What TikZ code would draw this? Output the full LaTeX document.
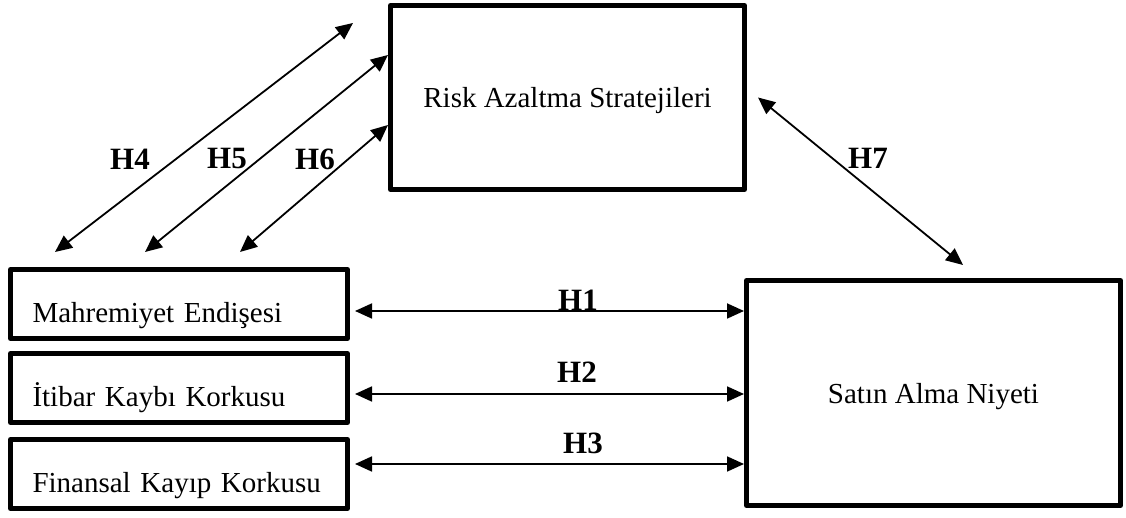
\documentclass[tikz,border=0pt]{standalone}
\usepackage{fontspec}
\setmainfont{Liberation Serif}
\usetikzlibrary{arrows.meta,positioning}

\tikzset{
  bigbox/.style={draw, line width=5pt, line join=round, text depth=0pt,
    font=\fontsize{29}{34}\selectfont},
  factor/.style={bigbox, text width=293pt, align=left, inner xsep=22pt,
    minimum height=69pt, text height=37pt},
  link/.style={>={Triangle[length=17pt,width=15pt]}, <->, line width=1.8pt},
  hlabel/.style={font=\fontsize{31}{36}\selectfont\bfseries}
}

\begin{document}
\begin{tikzpicture}[x=1pt, y=1pt]
    \useasboundingbox (0,0) rectangle (1126,518);

    % Define boxes
    \node[bigbox, minimum width=354pt, minimum height=184pt] (risk) at (567.5,420.5) {Risk Azaltma Stratejileri};
    \node[bigbox, minimum width=374pt, minimum height=225pt] (satin) at (933.5,125) {Satın Alma Niyeti};
    \node[factor] (mahrem) at (179,214) {Mahremiyet Endişesi};
    \node[factor, below=10pt of mahrem] (itibar) {İtibar Kaybı Korkusu};
    \node[factor, below=12pt of itibar] (finans) {Finansal Kayıp Korkusu};

    % Free ends of the diagonal arrows
    \coordinate (h4low) at ([shift={(47,15)}]mahrem.north west);
    \coordinate (h5low) at ([shift={(137,15)}]mahrem.north west);
    \coordinate (h6low) at ([shift={(232,15)}]mahrem.north west);
    \coordinate (h4up) at ([shift={(-35,-20)}]risk.north west);
    \coordinate (h5up) at ([shift={(0,-52)}]risk.north west);
    \coordinate (h6up) at ([shift={(0,-122)}]risk.north west);
    \coordinate (h7up) at ([shift={(11,0)}]risk.east);
    \coordinate (h7low) at ([shift={(219,13)}]satin.north west);

    % Relations to purchase intention
    \draw[link, shorten <=5pt] ([yshift=-7pt]mahrem.east) -- ([yshift=-7pt]mahrem.east -| satin.west);
    \draw[link, shorten <=5pt] ([yshift=-6pt]itibar.east) -- ([yshift=-6pt]itibar.east -| satin.west);
    \draw[link, shorten <=5pt] ([yshift=10pt]finans.east) -- ([yshift=10pt]finans.east -| satin.west);

    % Relations to risk reduction strategies
    \draw[link] (h4low) -- (h4up);
    \draw[link] (h5low) -- (h5up);
    \draw[link] (h6low) -- (h6up);
    \draw[link] (h7up) -- (h7low);

    % Hypothesis labels
    \node[hlabel] (lh1) at (578,218) {H1};
    \node[hlabel] (lh2) at (577,146) {H2};
    \node[hlabel] (lh3) at (583,75) {H3};
    \node[hlabel] (lh4) at (130,359) {H4};
    \node[hlabel] (lh5) at (227,359) {H5};
    \node[hlabel] (lh6) at (315,359) {H6};
    \node[hlabel] (lh7) at (868,360) {H7};

\end{tikzpicture}
\end{document}
